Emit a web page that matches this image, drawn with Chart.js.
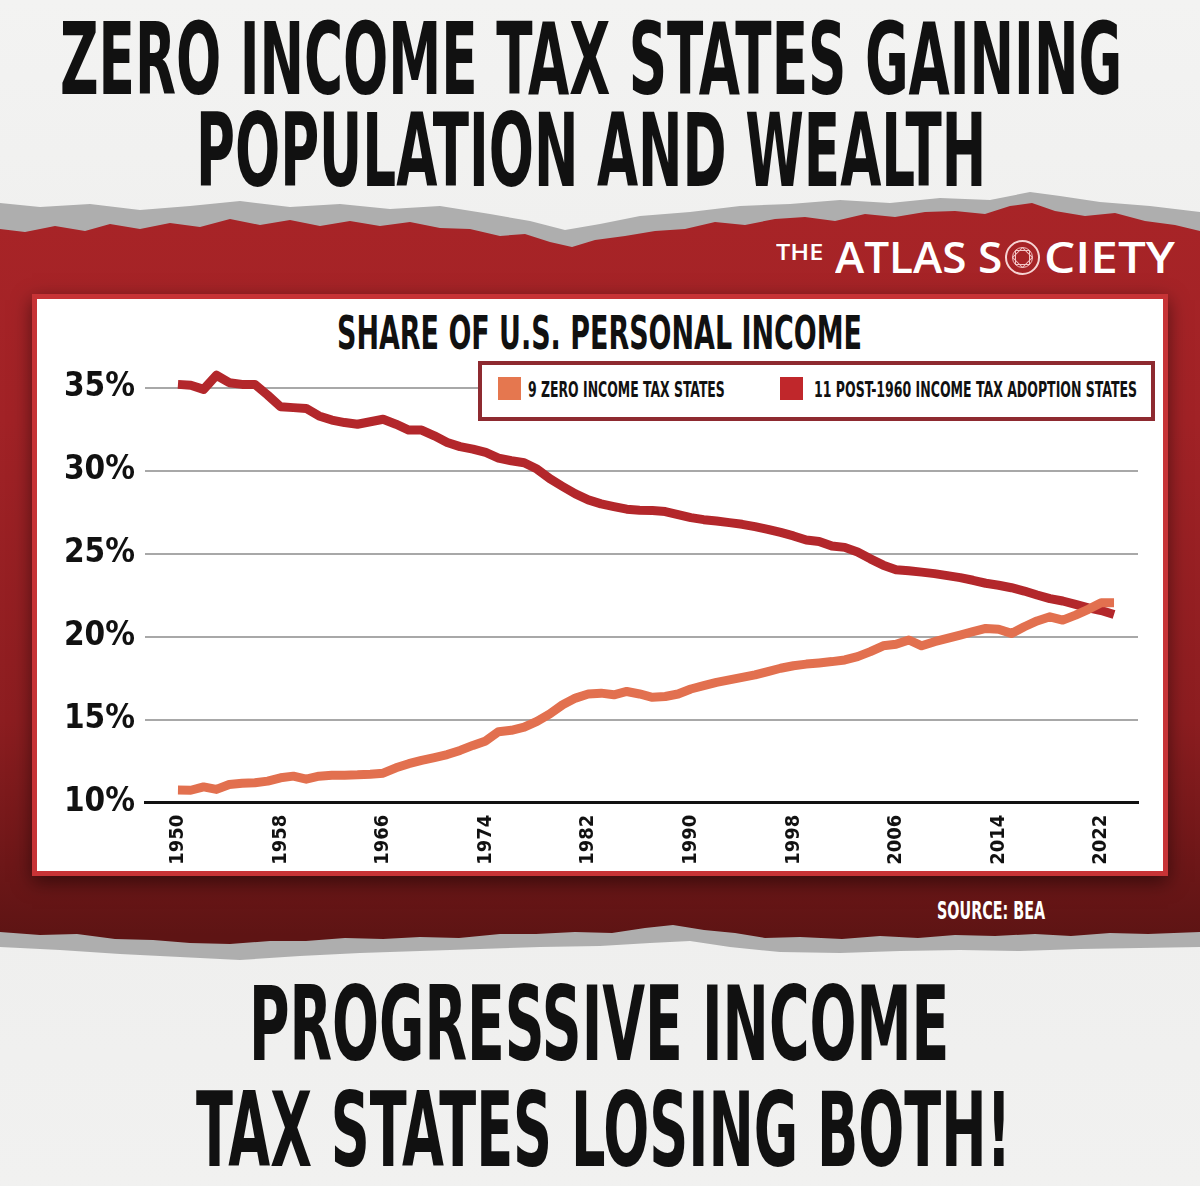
<!DOCTYPE html>
<html>
<head>
<meta charset="utf-8">
<script src="https://cdn.jsdelivr.net/npm/chart.js@4.4.1/dist/chart.umd.min.js"></script>
<style>
  body { margin: 0; }
  #page { position: relative; width: 1200px; height: 1186px; overflow: hidden;
          background: linear-gradient(to bottom, #f3f3f2, #ececeb 45%, #f1f1f0); }
  .layer { position: absolute; left: 0; top: 0; width: 1200px; height: 1186px; }
  #gray { background: #aeaeae; }
  #red { background: linear-gradient(to bottom, #a82427 200px, #a12226 420px, #8c1d20 720px, #5e1414 935px); }
  #panel { position: absolute; left: 32px; top: 294px; width: 1136px; height: 582px; box-sizing: border-box;
           background: #fff; border: 5px solid #c73336; box-shadow: 0 6px 18px rgba(0,0,0,0.5); }
  #chartWrap { position: absolute; left: 40px; top: 340px; width: 1110px; height: 540px; }
  .cond { position: absolute; white-space: nowrap; line-height: 1; transform-origin: 0 0; color: #111;
          font-family: 'Liberation Sans Narrow', 'DejaVu Sans Condensed', sans-serif; font-weight: bold; }
  .logo { position: absolute; white-space: nowrap; line-height: 1; transform-origin: 0 0; color: #fff;
          font-family: 'Open Sans', 'Lato', sans-serif; font-weight: 600; }
  #legendBox { position: absolute; left: 478px; top: 361px; width: 677px; height: 60px; box-sizing: border-box;
               border: 4px solid #8e2a30; background: #fff; }
  .swatch { position: absolute; width: 23px; height: 23px; }
  #emblem { position: absolute; left: 1005px; top: 240px; width: 35px; height: 35px; box-sizing: border-box;
            border: 2px solid #f6d4d4; border-radius: 50%; }
  #emblem div { position: absolute; box-sizing: border-box; border: 1.5px solid #f3c6c6; }
</style>
</head>
<body>
<div id="page">
  <div id="gray" class="layer"></div>
  <div id="red" class="layer"></div>

  <div id="t1" class="cond">ZERO INCOME TAX STATES GAINING</div>
  <div id="t2" class="cond">POPULATION AND WEALTH</div>

  <div id="logoThe" class="logo">THE</div>
  <div id="logoA" class="logo">ATLAS S</div>
  <div id="emblem">
    <div style="left:5px;top:5px;width:21px;height:21px;border-radius:50%;"></div>
    <div style="left:8px;top:8px;width:15px;height:15px;transform:rotate(45deg);"></div>
    <div style="left:8px;top:8px;width:15px;height:15px;"></div>
  </div>
  <div id="logoB" class="logo">CIETY</div>

  <div id="panel"></div>
  <div id="chartTitle" class="cond">SHARE OF U.S. PERSONAL INCOME</div>
  <div id="chartWrap"><canvas id="chart"></canvas></div>

  <div id="legendBox"></div>
  <div class="swatch" style="left:498px;top:377px;background:#e5774f;"></div>
  <div id="leg1" class="cond">9 ZERO INCOME TAX STATES</div>
  <div class="swatch" style="left:780px;top:377px;background:#c0272b;"></div>
  <div id="leg2" class="cond">11 POST-1960 INCOME TAX ADOPTION STATES</div>

  <div id="source" class="cond" style="color:#fff;">SOURCE: BEA</div>

  <div id="b1" class="cond">PROGRESSIVE INCOME</div>
  <div id="b2" class="cond">TAX STATES LOSING BOTH!</div>
</div>

<script>
// years on the x axis
const years = [1950, 1951, 1952, 1953, 1954, 1955, 1956, 1957, 1958, 1959,
               1960, 1961, 1962, 1963, 1964, 1965, 1966, 1967, 1968, 1969,
               1970, 1971, 1972, 1973, 1974, 1975, 1976, 1977, 1978, 1979,
               1980, 1981, 1982, 1983, 1984, 1985, 1986, 1987, 1988, 1989,
               1990, 1991, 1992, 1993, 1994, 1995, 1996, 1997, 1998, 1999,
               2000, 2001, 2002, 2003, 2004, 2005, 2006, 2007, 2008, 2009,
               2010, 2011, 2012, 2013, 2014, 2015, 2016, 2017, 2018, 2019,
               2020, 2021, 2022, 2023];

// share of U.S. personal income, percent
const zeroTaxStates = [10.76, 10.75, 10.95, 10.8, 11.1, 11.17, 11.2, 11.3, 11.5, 11.6,
                       11.42, 11.6, 11.65, 11.66, 11.68, 11.72, 11.78, 12.1, 12.35, 12.55,
                       12.72, 12.9, 13.15, 13.45, 13.72, 14.28, 14.36, 14.55, 14.9, 15.35,
                       15.9, 16.3, 16.55, 16.6, 16.5, 16.7, 16.55, 16.35, 16.4, 16.55,
                       16.85, 17.05, 17.25, 17.4, 17.55, 17.7, 17.9, 18.1, 18.25, 18.35,
                       18.42, 18.5, 18.6, 18.8, 19.1, 19.45, 19.55, 19.8, 19.45, 19.7,
                       19.9, 20.1, 20.3, 20.5, 20.45, 20.2, 20.6, 20.95, 21.2, 21.0,
                       21.3, 21.65, 22.05, 22.05];

const adoptionStates = [35.2, 35.15, 34.9, 35.75, 35.3, 35.2, 35.2, 34.55, 33.85, 33.8,
                        33.75, 33.3, 33.05, 32.9, 32.8, 32.95, 33.1, 32.8, 32.45, 32.45,
                        32.1, 31.7, 31.45, 31.3, 31.1, 30.76, 30.6, 30.48, 30.1, 29.52,
                        29.05, 28.6, 28.24, 28.0, 27.84, 27.68, 27.62, 27.6, 27.54, 27.35,
                        27.17, 27.05, 26.97, 26.87, 26.77, 26.63, 26.47, 26.28, 26.07, 25.82,
                        25.74, 25.46, 25.38, 25.1, 24.69, 24.31, 24.03, 23.97, 23.89, 23.8,
                        23.68, 23.56, 23.4, 23.22, 23.1, 22.95, 22.75, 22.51, 22.29, 22.15,
                        21.95, 21.74, 21.58, 21.34];

// tick labels
const xTickYears = [1950, 1958, 1966, 1974, 1982, 1990, 1998, 2006, 2014, 2022];
const yTickValues = [10, 15, 20, 25, 30, 35];

// torn paper edges of the red band (page pixels)
const redTop = [[0,229],[25,232],[55,226],[85,231],[110,224],[140,229],[170,223],[200,227],[230,219],
  [260,225],[290,220],[320,226],[350,221],[380,226],[410,222],[440,228],[470,229],[500,236],[525,234],
  [550,242],[572,247],[595,240],[625,236],[655,231],[685,229],[715,222],[745,225],[775,219],[805,217],
  [835,221],[865,214],[895,217],[925,212],[955,211],[985,214],[1010,206],[1032,203],[1055,211],
  [1085,216],[1115,213],[1145,221],[1175,225],[1200,231]];
const redBottom = [[0,932],[40,935],[77,934],[115,939],[153,940],[190,943],[230,944],[270,941],[306,941],
  [345,938],[383,939],[420,937],[459,938],[500,934],[536,934],[575,932],[612,933],[645,928],[673,925],
  [704,930],[735,933],[765,938],[800,937],[842,939],[880,936],[918,938],[955,935],[995,936],[1035,934],
  [1071,936],[1110,933],[1148,934],[1200,932]];
const grayTop = [[0,203],[40,207],[90,204],[140,210],[190,206],[240,201],[290,207],[340,204],[390,209],
  [440,206],[490,214],[530,221],[565,230],[600,224],[640,216],[690,212],[740,206],[790,204],[840,200],
  [890,203],[940,198],[990,200],[1030,192],[1060,196],[1100,202],[1150,206],[1200,212]];
const grayBottom = [[0,947],[60,950],[120,954],[180,957],[240,960],[300,956],[360,953],[420,951],
  [480,949],[540,947],[600,946],[650,943],[690,941],[730,947],[780,952],[840,953],[900,951],[960,950],
  [1020,951],[1080,949],[1140,948],[1200,947]];

function edgePolygon(top, bottom) {
    const pts = top.concat(bottom.slice().reverse());
    return 'polygon(' + pts.map(p => p[0] + 'px ' + p[1] + 'px').join(', ') + ')';
}
document.getElementById('red').style.clipPath = edgePolygon(redTop, redBottom);
document.getElementById('gray').style.clipPath = edgePolygon(grayTop, grayBottom);

// Place a text so its capitals sit at capTop with height capH, squeezed to width
const measureCtx = document.createElement('canvas').getContext('2d');
function place(id, left, capTop, capH, width) {
    const el = document.getElementById(id);
    const cs = getComputedStyle(el);
    measureCtx.font = cs.fontWeight + ' 200px ' + cs.fontFamily;
    const ratio = measureCtx.measureText('H').actualBoundingBoxAscent / 200;
    el.style.fontSize = (capH / ratio) + 'px';
    const probe = document.createElement('span');
    probe.style.cssText = 'display:inline-block;width:0;height:0;';
    el.appendChild(probe);
    const base = probe.offsetTop;
    el.removeChild(probe);
    el.style.left = left + 'px';
    el.style.top = (capTop + capH - base) + 'px';
    el.style.transform = 'scaleX(' + (width / el.offsetWidth) + ')';
}

place('t1', 60, 21, 73, 1062);
place('t2', 196, 112, 74, 790);
place('b1', 249, 985, 75, 700);
place('b2', 196, 1090, 76, 815);
place('chartTitle', 337, 315, 34, 525);
place('leg1', 528, 381, 16, 197);
place('leg2', 814, 381, 16, 323);
place('source', 937, 901, 18, 108);
place('logoThe', 776, 245, 15, 47);
place('logoA', 835, 242, 31, 167);
place('logoB', 1044, 242, 31, 131);

// Line chart
const tickFont = "'Liberation Sans Narrow', 'DejaVu Sans Condensed', sans-serif";
const chart = new Chart(document.getElementById('chart'), {
    type: 'line',
    data: {
        datasets: [{
            label: '9 ZERO INCOME TAX STATES',
            data: years.map((yr, i) => ({ x: yr, y: zeroTaxStates[i] })),
            borderColor: '#e2704f',
            borderWidth: 9,
            borderJoinStyle: 'round',
            pointRadius: 0,
            tension: 0,
            clip: false
        }, {
            label: '11 POST-1960 INCOME TAX ADOPTION STATES',
            data: years.map((yr, i) => ({ x: yr, y: adoptionStates[i] })),
            borderColor: '#b3272b',
            borderWidth: 9,
            borderJoinStyle: 'round',
            pointRadius: 0,
            tension: 0,
            clip: false
        }]
    },
    options: {
        responsive: true,
        maintainAspectRatio: false,
        animation: false,
        devicePixelRatio: 1,
        layout: { padding: { top: 47.7, right: 12, left: 0, bottom: 0 } },
        plugins: {
            legend: { display: false },
            tooltip: { enabled: false }
        },
        scales: {
            x: {
                type: 'linear',
                min: 1947.43,
                max: 2024.87,
                grid: { display: false, drawTicks: false },
                border: { display: true, color: '#111', width: 3 },
                ticks: {
                    color: '#111',
                    font: { family: tickFont, size: 20, weight: 'bold' },
                    minRotation: 90,
                    maxRotation: 90,
                    padding: 12,
                    autoSkip: false,
                    callback: v => String(v)
                },
                afterBuildTicks: scale => { scale.ticks = xTickYears.map(v => ({ value: v })); },
                afterFit: scale => { scale.height = 77.3; }
            },
            y: {
                min: 10,
                max: 35,
                grid: {
                    color: c => c.tick && c.tick.value === 10 ? 'rgba(0,0,0,0)' : '#a8a8a8',
                    lineWidth: 2,
                    drawTicks: false
                },
                border: { display: false },
                ticks: {
                    color: '#111',
                    font: { family: tickFont, size: 33, weight: 'bold' },
                    padding: 10,
                    callback: v => v + '%'
                },
                afterBuildTicks: scale => { scale.ticks = yTickValues.map(v => ({ value: v })); },
                afterFit: scale => { scale.width = 105; }
            }
        }
    }
});
</script>
</body>
</html>
